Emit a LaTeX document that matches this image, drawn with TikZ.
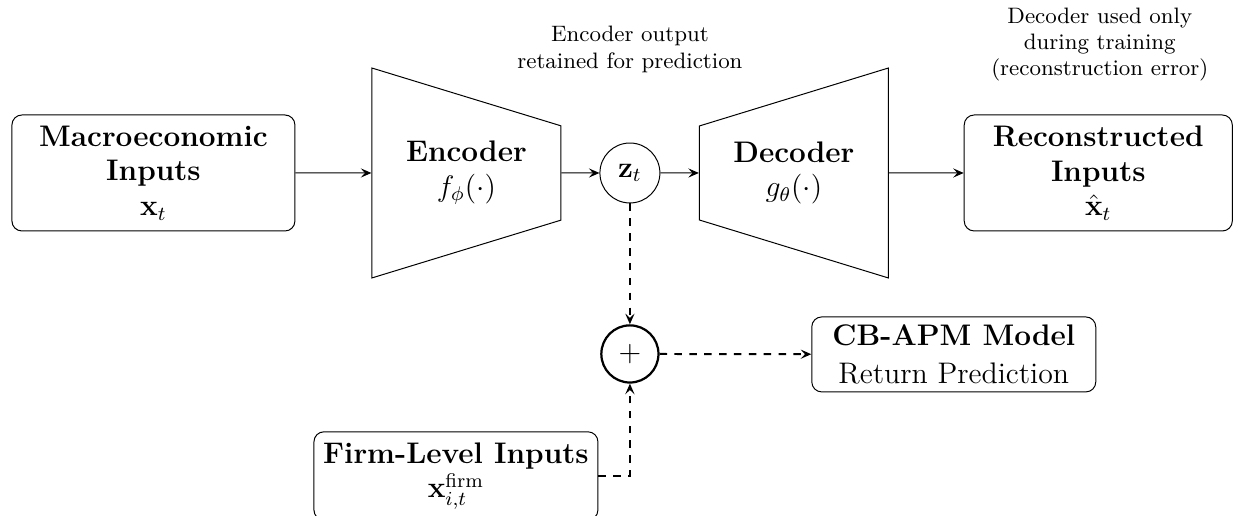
\documentclass[tikz,border=0pt]{standalone}
\usepackage{amsmath}
\usepackage{tikz}
\usetikzlibrary{positioning,calc,arrows.meta,shapes.geometric}

\begin{document}
\begin{tikzpicture}[
		x=1cm,
		y=1cm,
		>={Stealth[length=1.5mm,width=1.3mm,inset=0.6mm]},
		inbox/.style={
			rounded corners=4pt,
			draw=black,
			line width=0.4pt,
			align=center,
			inner sep=2pt,
			font=\large
		},
		codec/.style={
			trapezium,
			draw=black,
			line width=0.4pt,
			trapezium left angle=64.4,
			trapezium right angle=64.4,
			trapezium stretches body,
			minimum width=2.976cm,
			minimum height=2.679cm,
			align=center,
			inner sep=0pt,
			font=\large
		},
		latent/.style={circle, draw=black, line width=0.4pt, minimum size=0.85cm, inner sep=0pt, font=\large},
		sumnode/.style={circle, draw=black, line width=0.9pt, minimum size=0.81cm, inner sep=0pt, font=\large},
		flow/.style={->, line width=0.4pt},
		dflow/.style={->, thick, dashed},
		note/.style={font=\small, align=center}
	]
	
	% Canvas
	\useasboundingbox (0,0) rectangle (17.62,-7.313);
	
	% Autoencoder row
	\node[inbox, minimum width=4.011cm, minimum height=1.644cm] (macro) at (2.175,-2.452)
	{\textbf{Macroeconomic}\\\textbf{Inputs}\\$\mathbf{x}_t$};
	\node[codec, shape border rotate=270] (enc) at (6.611,-2.452)
	{\textbf{Encoder}\\$f_\phi(\cdot)$};
	\node[latent] (z) at (8.929,-2.452) {$\mathbf{z}_t$};
	\node[codec, shape border rotate=90] (dec) at (11.253,-2.452)
	{\textbf{Decoder}\\$g_\theta(\cdot)$};
	\node[inbox, minimum width=3.80cm, minimum height=1.644cm] (recon) at (15.568,-2.452)
	{\textbf{Reconstructed}\\\textbf{Inputs}\\$\hat{\mathbf{x}}_t$};
	
	% Notes
	\node[note] (encnote) at (8.929,-0.70) {Encoder output\\retained for prediction};
	\node[note] (decnote) at (15.59,-0.63) {Decoder used only\\[-0.6pt]during training\\[-0.6pt](reconstruction error)};
	
	% Prediction branch
	\node[sumnode] (plus) at (8.929,-5.017) {$+$};
	\node[inbox, minimum width=4.025cm, minimum height=1.063cm] (cbapm) at (13.52,-5.024)
	{\textbf{CB-APM Model}\\[1pt]Return Prediction};
	\node[inbox, minimum width=4.025cm, minimum height=1.25cm] (firm) at (6.463,-6.746)
	{\textbf{Firm-Level Inputs}\\$\mathbf{x}_{i,t}^{\text{firm}}$};
	
	% Arrows
	\draw[flow] (macro) -- (enc);
	\draw[flow] (enc) -- (z);
	\draw[flow] (z) -- (dec);
	\draw[flow] (dec) -- (recon);
	\draw[dflow] (z) -- (plus);
	\draw[dflow] (firm.east) -| (plus.south);
	\draw[dflow] (plus) -- (cbapm);
	
\end{tikzpicture}
\end{document}
